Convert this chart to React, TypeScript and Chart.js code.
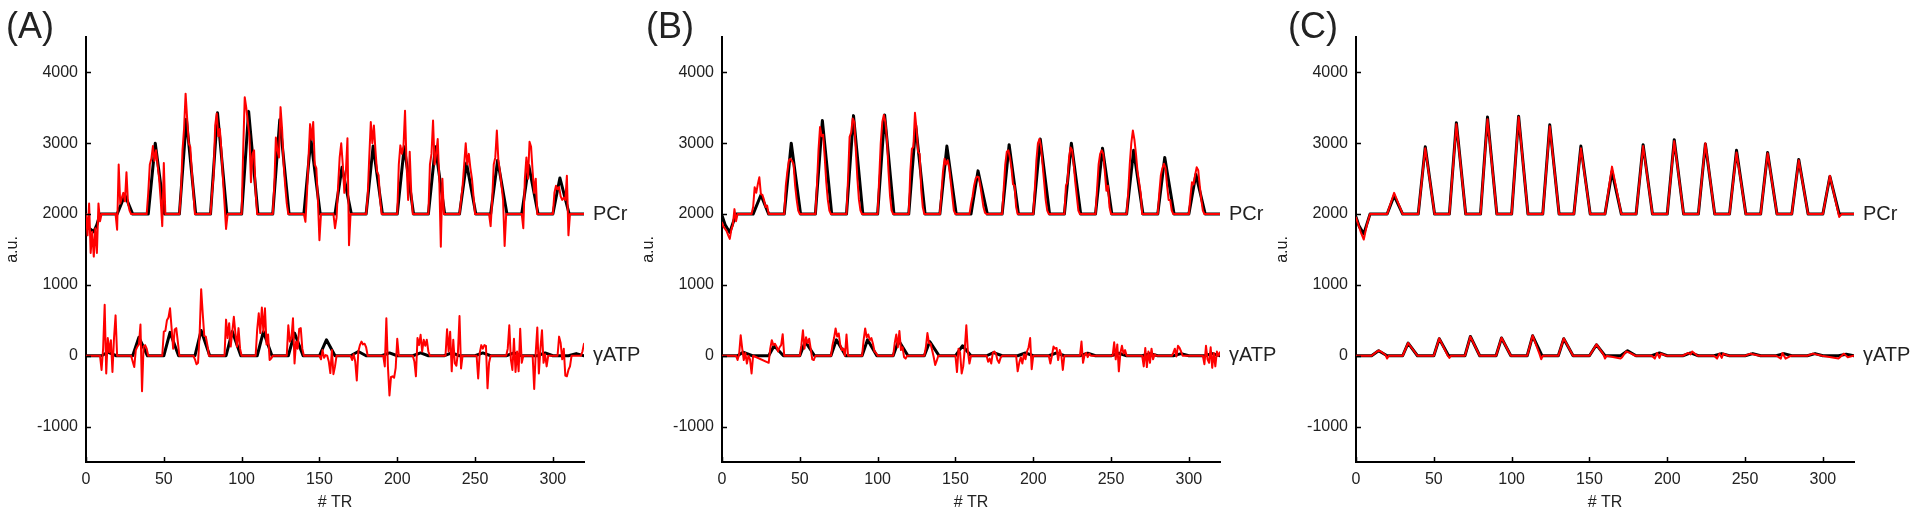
import React, { useEffect, useRef } from 'react';
import { Chart, registerables } from 'chart.js';

Chart.register(...registerables);

type Pt = [number, number];

const xTicks = [0, 50, 100, 150, 200, 250, 300];
const yTicks = [-1000, 0, 1000, 2000, 3000, 4000];
const seriesNames = ['PCr', 'γATP'];
const panelLabels = ['(A)', '(B)', '(C)'];

// ---------- Panel A ----------
const pcrTruthA: Pt[] = [
  [0, 1950], [2, 1800], [5, 1750], [7, 1850], [9, 2000], [20, 2000], [25, 2270], [30, 2000],
  [40, 2000], [44.5, 3000], [50.5, 2000], [60, 2000], [64.5, 3340], [70.5, 2000],
  [80, 2000], [84.5, 3430], [90.5, 2000], [100, 2000], [104.5, 3450], [110.5, 2000],
  [120, 2000], [124.5, 3330], [130.5, 2000], [140, 2000], [144.5, 3060], [150.5, 2000],
  [160, 2000], [164.5, 2660], [170.5, 2000], [180, 2000], [184.5, 2960], [190.5, 2000],
  [200, 2000], [204.5, 2950], [210.5, 2000], [220, 2000], [224.5, 2950], [230.5, 2000],
  [240, 2000], [244.5, 2720], [250.5, 2000], [260, 2000], [264.5, 2760], [270.5, 2000],
  [280, 2000], [284.5, 2690], [290.5, 2000], [300, 2000], [304.5, 2510], [310.5, 2000], [320, 2000],
];
const pcrFitA: Pt[] = [
  [0, 2000], [1, 1700], [2, 2150], [3, 1450], [4, 1750], [5, 1400], [6, 1800], [7, 1450], [8, 2150], [9, 1900], [10, 2000],
  [19, 2000], [20, 1780], [21, 2700], [22, 2150], [23, 2230], [24, 2300], [25, 2180], [26, 2590], [27, 2150], [28, 2050], [29, 2000],
  [39, 2000], [40, 2300], [41, 2700], [42, 2780], [43, 2960], [44, 2750], [45, 2900], [46, 2700], [47, 2500], [48, 2200], [49, 1830], [50, 2720], [51, 2000],
  [60, 2000], [61, 2300], [62, 2900], [63, 3200], [64, 3700], [65, 3350], [66, 3000], [67, 2950], [68, 2600], [69, 2300], [70, 2000],
  [80, 2000], [81, 2300], [82, 2550], [83, 3250], [84, 3420], [85, 3100], [86, 3200], [87, 2900], [88, 2500], [89, 2150], [90, 1790], [91, 2000],
  [100, 2000], [101, 2900], [102, 3650], [103, 3500], [104, 3300], [105, 3100], [106, 2450], [107, 2850], [108, 2900], [109, 2300], [110, 2000],
  [120, 2000], [121, 2400], [122, 3080], [123, 2900], [124, 2800], [125, 3510], [126, 3200], [127, 2700], [128, 2400], [129, 2150], [130, 2000],
  [140, 2000], [141, 1890], [142, 2300], [143, 2800], [144, 3270], [145, 3050], [146, 3300], [147, 2700], [148, 2650], [149, 2200], [150, 1630], [151, 2000],
  [159, 2000], [160, 1800], [161, 1950], [162, 2400], [163, 2800], [164, 3000], [165, 2700], [166, 2300], [167, 2600], [168, 3070], [169, 1560], [170, 2000],
  [180, 2000], [181, 2250], [182, 2800], [183, 3300], [184, 3000], [185, 3250], [186, 2900], [187, 2600], [188, 2550], [189, 2200], [190, 2000],
  [200, 2000], [201, 2700], [202, 2970], [203, 2850], [204, 2950], [205, 3460], [206, 2700], [207, 2200], [208, 2880], [209, 2300], [210, 2000],
  [220, 2000], [221, 2700], [222, 2850], [223, 3320], [224, 2700], [225, 2850], [226, 3060], [227, 2500], [228, 1540], [229, 2500], [230, 2000],
  [240, 2000], [241, 2200], [242, 2400], [243, 2700], [244, 3000], [245, 2700], [246, 2850], [247, 2650], [248, 2500], [249, 2250], [250, 2000],
  [259, 2000], [260, 1830], [261, 2200], [262, 2700], [263, 2800], [264, 3180], [265, 2750], [266, 2600], [267, 2400], [268, 2200], [269, 1550], [270, 2000],
  [280, 2000], [281, 1800], [282, 2500], [283, 2800], [284, 2500], [285, 3020], [286, 2950], [287, 2600], [288, 2300], [289, 2500], [290, 2000],
  [300, 2000], [301, 2300], [302, 2400], [303, 2350], [304, 2380], [305, 2250], [306, 2200], [307, 2230], [308, 2200], [309, 2540], [310, 1700], [311, 2000], [320, 2000],
];
const atpTruthA: Pt[] = [
  [0, 0], [10, 0], [14, 50], [19.5, 0], [30, 0], [34, 260], [39.5, 0], [50, 0], [54, 330], [59.5, 0],
  [70, 0], [74, 357], [79.5, 0], [90, 0], [94, 343], [99.5, 0], [110, 0], [114, 340], [119.5, 0],
  [130, 0], [134, 320], [139.5, 0], [150, 0], [154.5, 225], [160, 0], [170, 0], [175, 60], [180, 0],
  [190, 0], [195, 40], [200, 0], [210, 0], [215, 40], [220, 0], [230, 0], [235, 40], [240, 0],
  [250, 0], [255, 40], [260, 0], [270, 0], [275, 40], [280, 0], [290, 0], [295, 40], [300, 0],
  [310, 0], [315, 30], [320, 0],
];
const atpFitA: Pt[] = [
  [0, 0], [9, 0], [10, -200], [11, 100], [12, 720], [13, -250], [14, 250], [15, 50], [16, 220], [17, -230], [18, 250], [19, 570], [20, 0],
  [29, 0], [30, -80], [31, -160], [32, 80], [33, 130], [34, 160], [35, 440], [36, -500], [37, 130], [38, 150], [39, 100], [40, 0],
  [49, 0], [50, 340], [51, 350], [52, 500], [53, 540], [54, 670], [55, 390], [56, 100], [57, 370], [58, 390], [59, 200], [60, 0],
  [69, 0], [70, -50], [71, -120], [72, -100], [73, 300], [74, 940], [75, 600], [76, 280], [77, 270], [78, 150], [79, 0],
  [89, 0], [90, 510], [91, 250], [92, 460], [93, 130], [94, 340], [95, 550], [96, 320], [97, 130], [98, 390], [99, 100], [100, 0],
  [109, 0], [110, 370], [111, 600], [112, 320], [113, 680], [114, 340], [115, 670], [116, 160], [117, 300], [118, -60], [119, -40], [120, 0],
  [129, 0], [130, 430], [131, 200], [132, 250], [133, 530], [134, -110], [135, 200], [136, 100], [137, 380], [138, 390], [139, 100], [140, 0],
  [150, 0], [151, -50], [152, 80], [153, -30], [154, 10], [155, 0], [156, -80], [157, -245], [158, 80], [159, -260], [160, -150], [161, 0],
  [170, 0], [171, -60], [172, 20], [173, -80], [174, -350], [175, 60], [176, 150], [177, 200], [178, 160], [179, 170], [180, 120], [181, 0],
  [191, 0], [192, -150], [193, 530], [194, -150], [195, -560], [196, -300], [197, -290], [198, -310], [199, -170], [200, 240], [201, 0],
  [210, 0], [211, -80], [212, -290], [213, 250], [214, 150], [215, 295], [216, 60], [217, 225], [218, 140], [219, 225], [220, 60], [221, 0],
  [231, 0], [232, 375], [233, 60], [234, 340], [235, -220], [236, 225], [237, -105], [238, -140], [239, 50], [240, 560], [241, -180], [242, 0],
  [251, 0], [252, -320], [253, 40], [254, 150], [255, 100], [256, 150], [257, 140], [258, -460], [259, -100], [260, 0],
  [270, 0], [271, 100], [272, 430], [273, -50], [274, -200], [275, 240], [276, -230], [277, 60], [278, -220], [279, 380], [280, -100], [281, 0],
  [287, 0], [288, -470], [289, 50], [290, 400], [291, -250], [292, 100], [293, 360], [294, -100], [295, 20], [296, -150], [297, 0],
  [303, 0], [304, 270], [305, 180], [306, -50], [307, 100], [308, -280], [309, -290], [310, -200], [311, -150], [312, 0], [318, 0], [319, 60], [320, 170],
];

// ---------- Panel B ----------
const pcrTruthB: Pt[] = [
  [0, 1980], [2, 1850], [5, 1740], [9, 2000], [20, 2000], [25, 2270], [30, 2000],
  [40, 2000], [44.5, 3000], [50.5, 2000], [60, 2000], [64.5, 3320], [70.5, 2000],
  [80, 2000], [84.5, 3390], [90.5, 2000], [100, 2000], [104.5, 3400], [110.5, 2000],
  [120, 2000], [124.5, 3250], [130.5, 2000], [140, 2000], [144.5, 2960], [150.5, 2000],
  [160, 2000], [164.5, 2610], [170.5, 2000], [180, 2000], [184.5, 2980], [190.5, 2000],
  [200, 2000], [204.5, 3060], [210.5, 2000], [220, 2000], [224.5, 3000], [230.5, 2000],
  [240, 2000], [244.5, 2930], [250.5, 2000], [260, 2000], [264.5, 2900], [270.5, 2000],
  [280, 2000], [284.5, 2800], [290.5, 2000], [300, 2000], [304.5, 2560], [310.5, 2000], [320, 2000],
];
const pcrFitB: Pt[] = [
  [0, 1880], [1, 1820], [2, 1790], [3, 1760], [4, 1700], [5, 1650], [6, 1780], [7, 1850], [8, 2070], [9, 1900], [10, 2000],
  [19, 2000], [20, 2100], [21, 2380], [22, 2300], [23, 2420], [24, 2520], [25, 2280], [26, 2270], [27, 2200], [28, 2100], [29, 2120], [30, 2000],
  [40, 2000], [41, 2400], [42, 2600], [43, 2760], [44, 2780], [45, 2750], [46, 2700], [47, 2400], [48, 2200], [49, 2050], [50, 2000],
  [60, 2000], [61, 2400], [62, 2900], [63, 3230], [64, 3100], [65, 3120], [66, 2800], [67, 2450], [68, 2200], [69, 2050], [70, 2000],
  [80, 2000], [81, 2500], [82, 3090], [83, 3150], [84, 3350], [85, 3300], [86, 2900], [87, 2500], [88, 2200], [89, 2050], [90, 2000],
  [100, 2000], [101, 2500], [102, 3000], [103, 3300], [104, 3400], [105, 3300], [106, 3060], [107, 2600], [108, 2250], [109, 2050], [110, 2000],
  [120, 2000], [121, 2600], [122, 2920], [123, 2950], [124, 3430], [125, 3200], [126, 2880], [127, 2850], [128, 2350], [129, 2100], [130, 2000],
  [140, 2000], [141, 2300], [142, 2600], [143, 2780], [144, 2700], [145, 2760], [146, 2650], [147, 2450], [148, 2250], [149, 2050], [150, 2000],
  [159, 2000], [160, 2140], [161, 2250], [162, 2400], [163, 2500], [164, 2530], [165, 2520], [166, 2400], [167, 2250], [168, 2100], [169, 2020], [170, 2000],
  [180, 2000], [181, 2350], [182, 2700], [183, 2880], [184, 2900], [185, 2800], [186, 2650], [187, 2420], [188, 2400], [189, 2100], [190, 2000],
  [200, 2000], [201, 2350], [202, 2750], [203, 3000], [204, 3060], [205, 2950], [206, 2700], [207, 2450], [208, 2200], [209, 2050], [210, 2000],
  [220, 2000], [221, 2400], [222, 2450], [223, 2800], [224, 2940], [225, 2900], [226, 2700], [227, 2450], [228, 2250], [229, 2050], [230, 2000],
  [240, 2000], [241, 2350], [242, 2700], [243, 2850], [244, 2900], [245, 2850], [246, 2600], [247, 2330], [248, 2400], [249, 2100], [250, 2000],
  [260, 2000], [261, 2300], [262, 2700], [263, 3000], [264, 3180], [265, 3050], [266, 2850], [267, 2600], [268, 2450], [269, 2300], [270, 2000],
  [280, 2000], [281, 2300], [282, 2550], [283, 2650], [284, 2710], [285, 2650], [286, 2400], [287, 2200], [288, 2200], [289, 2050], [290, 2000],
  [300, 2000], [301, 2250], [302, 2450], [303, 2420], [304, 2550], [305, 2660], [306, 2620], [307, 2400], [308, 2200], [309, 2050], [310, 2000], [320, 2000],
];
const atpTruthB: Pt[] = [
  [0, 0], [10, 0], [13.5, 50], [19.5, 0], [30, 0], [33.5, 140], [39.5, 0], [50, 0], [53.5, 200], [59.5, 0],
  [70, 0], [73.5, 225], [79.5, 0], [90, 0], [93.5, 225], [99.5, 0], [110, 0], [113.5, 215], [119.5, 0],
  [130, 0], [133.5, 200], [139.5, 0], [150, 0], [154.5, 140], [160, 0], [170, 0], [174.5, 45], [180, 0],
  [190, 0], [195, 40], [200, 0], [210, 0], [215, 40], [220, 0], [230, 0], [235, 35], [240, 0],
  [250, 0], [255, 35], [260, 0], [270, 0], [275, 30], [280, 0], [290, 0], [295, 30], [300, 0],
  [310, 0], [315, 30], [320, 0],
];
const atpFitB: Pt[] = [
  [0, 0], [9, 0], [10, -60], [11, 20], [12, 290], [13, 100], [14, -60], [15, 40], [16, -110], [17, 0], [18, -50], [19, -250], [20, 0],
  [30, -100], [31, 100], [32, 220], [33, 150], [34, 170], [35, 130], [36, 60], [37, 120], [38, 150], [39, 305], [40, 0],
  [50, 0], [51, 150], [52, 360], [53, 100], [54, 260], [55, 180], [56, 240], [57, 100], [58, -50], [59, -60], [60, 0],
  [70, 0], [71, 150], [72, 250], [73, 385], [74, 270], [75, 315], [76, 150], [77, 80], [78, 100], [79, 0], [80, 300], [81, 0],
  [90, 0], [91, 220], [92, 385], [93, 260], [94, 300], [95, 220], [96, 250], [97, 170], [98, 60], [99, 40], [100, 0],
  [110, 0], [111, 180], [112, 300], [113, 120], [114, 350], [115, 80], [116, 120], [117, -20], [118, -40], [119, 0],
  [130, 0], [131, 120], [132, 320], [133, 180], [134, 170], [135, 80], [136, -15], [137, -130], [138, -70], [139, 0],
  [150, 0], [151, -230], [152, 100], [153, 40], [154, -250], [155, -150], [156, 100], [157, 430], [158, 60], [159, -110], [160, 0],
  [170, 0], [171, -85], [172, -40], [173, -110], [174, 40], [175, 60], [176, 30], [177, -60], [178, -100], [179, -30], [180, 0],
  [189, 0], [190, -220], [191, -100], [192, -20], [193, -110], [194, 20], [195, -50], [196, 60], [197, 120], [198, 250], [199, -190], [200, 0],
  [210, 0], [211, -110], [212, 0], [213, 130], [214, 100], [215, 110], [216, -60], [217, 80], [218, 20], [219, -200], [220, 0],
  [230, 0], [231, 200], [232, -100], [233, 10], [234, 40], [235, -20], [236, 30], [237, 0],
  [251, 0], [252, 190], [253, -50], [254, 160], [255, -220], [256, 40], [257, 140], [258, 30], [259, 80], [260, 0],
  [270, 0], [271, -150], [272, 110], [273, -160], [274, 60], [275, -100], [276, 100], [277, -50], [278, 20], [279, 0],
  [289, 0], [290, 40], [291, 100], [292, -10], [293, 140], [294, 110], [295, 60], [296, 0],
  [309, 0], [310, -120], [311, 140], [312, -50], [313, -100], [314, 120], [315, -170], [316, 40], [317, -150], [318, 60], [319, 0], [320, 50],
];

// ---------- Panel C ----------
const pcrTruthC: Pt[] = [
  [0, 1960], [2, 1830], [5, 1720], [9, 2000], [20, 2000], [24.5, 2260], [30, 2000],
  [40, 2000], [44.5, 2950], [50.5, 2000], [60, 2000], [64.5, 3290], [70.5, 2000],
  [80, 2000], [84.5, 3370], [90.5, 2000], [100, 2000], [104.5, 3380], [110.5, 2000],
  [120, 2000], [124.5, 3260], [130.5, 2000], [140, 2000], [144.5, 2960], [150.5, 2000],
  [160, 2000], [164.5, 2600], [170.5, 2000], [180, 2000], [184.5, 2980], [190.5, 2000],
  [200, 2000], [204.5, 3050], [210.5, 2000], [220, 2000], [224.5, 2990], [230.5, 2000],
  [240, 2000], [244.5, 2900], [250.5, 2000], [260, 2000], [264.5, 2870], [270.5, 2000],
  [280, 2000], [284.5, 2770], [290.5, 2000], [300, 2000], [304.5, 2530], [310.5, 2000], [320, 2000],
];
const pcrFitC: Pt[] = [
  [0, 1950], [3, 1750], [5, 1640], [7, 1850], [9, 2000], [20, 2000], [24.5, 2300], [30, 2000],
  [40, 2000], [44.5, 2930], [50.5, 2000], [60, 2000], [64.5, 3270], [70.5, 2000],
  [80, 2000], [84.5, 3340], [90.5, 2000], [100, 2000], [104.5, 3370], [110.5, 2000],
  [120, 2000], [124.5, 3240], [130.5, 2000], [140, 2000], [144.5, 2930], [150.5, 2000],
  [160, 2000], [164.5, 2670], [170.5, 2000], [180, 2000], [184.5, 2960], [190.5, 2000],
  [200, 2000], [204.5, 3030], [210.5, 2000], [220, 2000], [224.5, 3000], [230.5, 2000],
  [240, 2000], [244.5, 2870], [250.5, 2000], [260, 2000], [264.5, 2860], [270.5, 2000],
  [280, 2000], [284.5, 2760], [290.5, 2000], [300, 2000], [304.5, 2540], [310.5, 1960], [312, 2000], [320, 2000],
];
const atpTruthC: Pt[] = [
  [0, 0], [10, 0], [14.5, 70], [20, 0], [30, 0], [33.5, 178], [39.5, 0], [50, 0], [53.5, 240], [59.5, 0],
  [70, 0], [73.5, 272], [79.5, 0], [90, 0], [93.5, 250], [99.5, 0], [110, 0], [113.5, 282], [119.5, 0],
  [130, 0], [133.5, 240], [139.5, 0], [150, 0], [154.5, 155], [160, 0], [170, 0], [174.5, 70], [180, 0],
  [190, 0], [195, 40], [200, 0], [210, 0], [215, 40], [220, 0], [230, 0], [235, 30], [240, 0],
  [250, 0], [255, 30], [260, 0], [270, 0], [275, 30], [280, 0], [290, 0], [295, 30], [300, 0],
  [310, 0], [315, 20], [320, 0],
];
const atpFitC: Pt[] = [
  [0, 0], [10, 0], [13.5, 60], [15, 75], [19, 10], [20, -40], [21, 0],
  [30, 0], [33.5, 180], [39.5, 0], [50, 0], [53.5, 245], [59, 0], [60, -30], [61, 0],
  [70, 0], [73.5, 270], [79.5, 0], [90, 0], [93.5, 255], [99.5, 0],
  [110, 0], [113.5, 285], [118, 20], [119, -50], [120, 0], [130, 0], [133.5, 245], [139.5, 0],
  [150, 0], [154.5, 160], [159, 20], [160, -40], [161, 0],
  [170, -40], [171, -20], [173.5, 60], [176, 40], [179.5, 0],
  [190, 0], [192, -40], [193.5, 40], [195, -30], [196, 30], [199.5, 0],
  [210, 0], [213.5, 40], [215, 20], [216, 60], [219.5, 0],
  [230, 0], [232, -40], [233.5, 30], [235, -30], [236, 30], [239.5, 0],
  [250, 0], [253.5, 30], [255, 20], [259.5, 0],
  [270, 0], [273, -40], [274, 40], [276, -40], [279.5, 0],
  [290, 0], [293.5, 30], [299.5, 0],
  [310, -40], [311, -20], [313.5, 30], [316, -20], [319.5, 0], [320, 0],
];

const FONT = '"Liberation Sans", Arial, Helvetica, sans-serif';
const TEXT = '#222';

const decorPlugin = {
  id: 'decor',
  afterDraw(chart: any, _args: any, opts: any) {
    const { ctx, chartArea, scales } = chart;
    const xs = scales.x;
    const ys = scales.y;
    ctx.save();
    ctx.strokeStyle = '#000';
    ctx.lineWidth = 1.5;
    ctx.beginPath();
    for (const t of xs.ticks) {
      const px = Math.round(xs.getPixelForValue(t.value)) + 0.5;
      ctx.moveTo(px, chartArea.bottom);
      ctx.lineTo(px, chartArea.bottom - 5);
    }
    for (const t of ys.ticks) {
      const py = Math.round(ys.getPixelForValue(t.value)) + 0.5;
      ctx.moveTo(chartArea.left, py);
      ctx.lineTo(chartArea.left + 5, py);
    }
    ctx.stroke();
    ctx.fillStyle = TEXT;
    ctx.textBaseline = 'middle';
    ctx.textAlign = 'left';
    ctx.font = `20px ${FONT}`;
    ctx.fillText(seriesNames[0], chartArea.right + 9, ys.getPixelForValue(2000));
    ctx.fillText(seriesNames[1], chartArea.right + 9, ys.getPixelForValue(0));
    ctx.font = `36px ${FONT}`;
    ctx.fillText(opts.label, opts.labelX, 28);
    ctx.restore();
  },
};

type PanelProps = {
  label: string;
  labelX: number;
  left: number;
  pcrTruth: Pt[];
  pcrFit: Pt[];
  atpTruth: Pt[];
  atpFit: Pt[];
};

function Panel({ label, labelX, left, pcrTruth, pcrFit, atpTruth, atpFit }: PanelProps) {
  const ref = useRef<HTMLCanvasElement>(null);
  useEffect(() => {
    const toXY = (a: Pt[]) => a.map(([x, y]) => ({ x, y }));
    const red = (d: Pt[]) => ({ data: toXY(d), borderColor: '#ff0000', borderWidth: 2, order: 0 });
    const black = (d: Pt[]) => ({ data: toXY(d), borderColor: '#000000', borderWidth: 3, order: 1 });
    const tickFont = { family: FONT, size: 16 };
    const chart = new Chart(ref.current as HTMLCanvasElement, {
      type: 'line',
      data: {
        datasets: [red(pcrFit), red(atpFit), black(pcrTruth), black(atpTruth)] as any,
      },
      options: {
        animation: false,
        responsive: false,
        devicePixelRatio: 1,
        elements: { point: { radius: 0 }, line: { tension: 0, borderCapStyle: 'round', borderJoinStyle: 'round' } },
        layout: { padding: { left: 0, right: 56, top: 37, bottom: 0 } },
        plugins: {
          legend: { display: false },
          tooltip: { enabled: false },
          decor: { label, labelX },
        } as any,
        scales: {
          x: {
            type: 'linear',
            min: 0,
            max: 320,
            afterFit: (s: any) => { s.height = 56; },
            afterBuildTicks: (s: any) => { s.ticks = xTicks.map((v) => ({ value: v })); },
            grid: { display: false, drawTicks: false },
            border: { display: true, color: '#000', width: 2 },
            ticks: { font: tickFont, color: TEXT, padding: 8, maxRotation: 0, autoSkip: false, callback: (v: any) => String(v) },
            title: { display: true, text: '# TR', font: tickFont, color: TEXT, padding: { top: 0, bottom: 6 } },
          },
          y: {
            type: 'linear',
            min: -1500,
            max: 4500,
            afterFit: (s: any) => { s.width = 86; },
            afterBuildTicks: (s: any) => { s.ticks = yTicks.map((v) => ({ value: v })); },
            grid: { display: false, drawTicks: false },
            border: { display: true, color: '#000', width: 2 },
            ticks: { font: tickFont, color: TEXT, padding: 8, autoSkip: false, callback: (v: any) => String(v) },
            title: { display: true, text: 'a.u.', font: tickFont, color: TEXT, padding: { top: 3, bottom: 0 } },
          },
        },
      } as any,
      plugins: [decorPlugin as any],
    });
    return () => chart.destroy();
  }, []);
  return (
    <canvas
      ref={ref}
      width={640}
      height={518}
      style={{ position: 'absolute', left, top: 0, width: 640, height: 518 }}
    />
  );
}

export default function App() {
  return (
    <div style={{ position: 'absolute', left: 0, top: 0, width: 1920, height: 518, background: '#fff', overflow: 'hidden' }}>
      <Panel label={panelLabels[0]} labelX={6} left={0} pcrTruth={pcrTruthA} pcrFit={pcrFitA} atpTruth={atpTruthA} atpFit={atpFitA} />
      <Panel label={panelLabels[1]} labelX={10} left={636} pcrTruth={pcrTruthB} pcrFit={pcrFitB} atpTruth={atpTruthB} atpFit={atpFitB} />
      <Panel label={panelLabels[2]} labelX={18} left={1270} pcrTruth={pcrTruthC} pcrFit={pcrFitC} atpTruth={atpTruthC} atpFit={atpFitC} />
    </div>
  );
}
